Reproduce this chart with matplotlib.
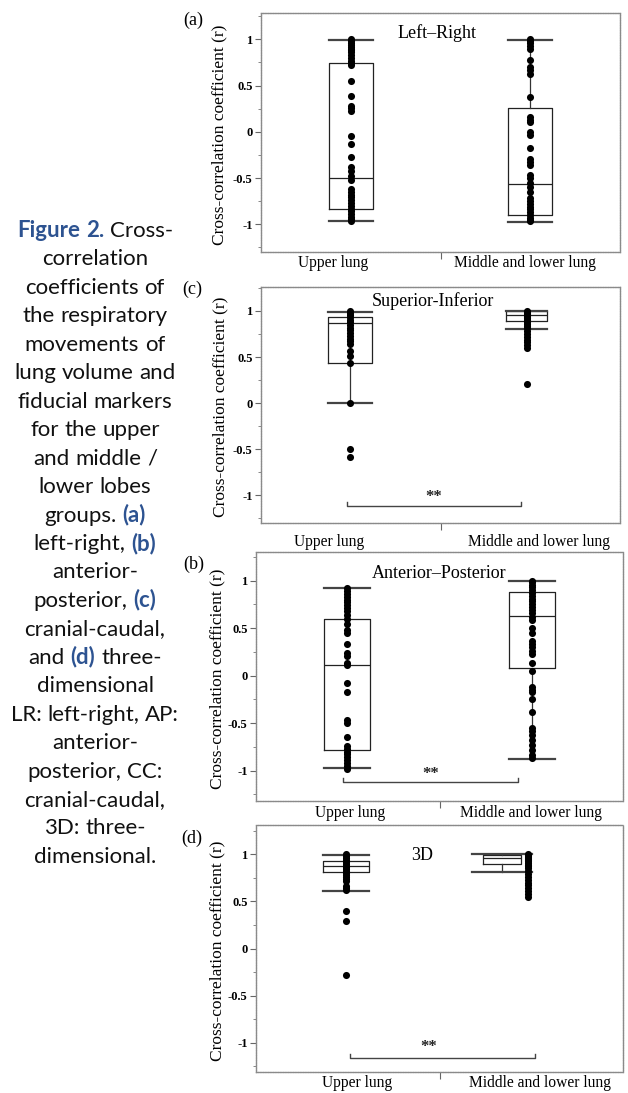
import re
import numpy as np
import matplotlib
matplotlib.use("Agg")
import matplotlib.pyplot as plt
from matplotlib.ticker import MultipleLocator

# ---------------- data ----------------
groups = ["Upper lung", "Middle and lower lung"]
panel_labels = ["(a)", "(c)", "(b)", "(d)"]
titles = ["Left\u2013Right", "Superior-Inferior", "Anterior\u2013Posterior", "3D"]
ylabel_text = "Cross-correlation coefficient (r)"
ytick_vals = [-1, -0.5, 0, 0.5, 1]
ytick_labels = ["-1", "-0.5", "0", "0.5", "1"]
sig_text = "**"

lr_upper = [1.0, 0.98, 0.96, 0.94, 0.92, 0.90, 0.88, 0.86, 0.83, 0.80, 0.77, 0.74, 0.72,
            0.55, 0.39, 0.28, 0.26, 0.23, -0.04, -0.13, -0.27, -0.38, -0.42, -0.48, -0.52,
            -0.62, -0.65, -0.68, -0.71, -0.74, -0.77, -0.80, -0.83, -0.86, -0.89, -0.92,
            -0.94, -0.96]
lr_lower = [1.0, 0.98, 0.96, 0.93, 0.90, 0.78, 0.70, 0.67, 0.63, 0.38, 0.16, 0.13, 0.11,
            0.0, -0.03, -0.17, -0.29, -0.33, -0.36, -0.47, -0.50, -0.55, -0.60, -0.65,
            -0.72, -0.75, -0.78, -0.81, -0.84, -0.87, -0.90, -0.93, -0.95, -0.97]
si_upper = [1.0, 0.98, 0.96, 0.93, 0.90, 0.88, 0.85, 0.82, 0.79, 0.76, 0.73, 0.70, 0.67,
            0.64, 0.57, 0.51, 0.44, 0.0, -0.50, -0.58]
si_lower = [1.0, 0.99, 0.98, 0.97, 0.96, 0.95, 0.93, 0.92, 0.90, 0.88, 0.86, 0.84, 0.81,
            0.78, 0.75, 0.72, 0.69, 0.66, 0.63, 0.60, 0.21]
ap_upper = [0.92, 0.89, 0.86, 0.83, 0.80, 0.77, 0.74, 0.71, 0.68, 0.64, 0.60, 0.54, 0.48,
            0.45, 0.33, 0.24, 0.21, 0.13, 0.11, -0.08, -0.17, -0.47, -0.50, -0.65, -0.74,
            -0.77, -0.80, -0.83, -0.86, -0.89, -0.92, -0.95, -0.98]
ap_lower = [1.0, 0.98, 0.95, 0.93, 0.90, 0.87, 0.84, 0.81, 0.78, 0.75, 0.72, 0.69, 0.66,
            0.62, 0.58, 0.50, 0.45, 0.36, 0.33, 0.30, 0.26, 0.23, 0.13, 0.05, -0.12, -0.15,
            -0.17, -0.25, -0.38, -0.55, -0.58, -0.63, -0.68, -0.73, -0.78, -0.84, -0.87]
d3_upper = [1.0, 0.98, 0.96, 0.94, 0.92, 0.90, 0.88, 0.86, 0.84, 0.82, 0.80, 0.78, 0.76,
            0.74, 0.72, 0.66, 0.64, 0.62, 0.40, 0.295, -0.28]
d3_lower = [1.0, 0.99, 0.98, 0.97, 0.96, 0.95, 0.94, 0.93, 0.91, 0.89, 0.87, 0.85, 0.82,
            0.79, 0.76, 0.73, 0.70, 0.67, 0.64, 0.61, 0.58, 0.55]

# box statistics: (whislo, q1, med, q3, whishi)
lr_box = [(-0.96, -0.83, -0.505, 0.74, 0.99), (-0.975, -0.895, -0.56, 0.26, 0.99)]
si_box = [(0.0, 0.44, 0.87, 0.93, 0.99), (0.80, 0.895, 0.955, 1.0, 1.0)]
ap_box = [(-0.975, -0.785, 0.115, 0.60, 0.92), (-0.875, 0.08, 0.63, 0.88, 0.99)]
d3_box = [(0.61, 0.81, 0.87, 0.93, 0.99), (0.815, 0.895, 0.965, 0.995, 1.0)]

points = [(lr_upper, lr_lower), (si_upper, si_lower), (ap_upper, ap_lower), (d3_upper, d3_lower)]
boxes = [lr_box, si_box, ap_box, d3_box]
significant = [False, True, True, True]

caption_lines = [
    "[Figure 2.] Cross-",
    "correlation",
    "coefficients of",
    "the respiratory",
    "movements of",
    "lung volume and",
    "fiducial markers",
    "for the upper",
    "and middle /",
    "lower lobes",
    "groups. [(a)]",
    "left-right, [(b)]",
    "anterior-",
    "posterior, [(c)]",
    "cranial-caudal,",
    "and [(d)] three-",
    "dimensional",
    "LR: left-right, AP:",
    "anterior-",
    "posterior, CC:",
    "cranial-caudal,",
    "3D: three-",
    "dimensional.",
]

# ---------------- layout ----------------
W, H, DPI = 628, 1093, 100
plt.rcParams["font.family"] = ["Liberation Serif", "DejaVu Serif"]
fig = plt.figure(figsize=(W / DPI, H / DPI), dpi=DPI)


def fx(x):
    return x / W


def fy(y):
    return 1 - y / H


layout = [
    dict(rect=(261, 13, 620, 252), ylim=(-1.30, 1.285), bpos=[1.0, 2.0], bw=[0.245, 0.245],
         cw=[0.245, 0.245], dx=[1.0, 2.0], lpos=[0.90, 1.97], lpad=2, title=(437, 33),
         plab=(193, 20), ylx=219, sig=None),
    dict(rect=(261, 287, 620, 523), ylim=(-1.30, 1.26), bpos=[0.996, 1.98], bw=[0.25, 0.23],
         cw=[0.25, 0.23], dx=[0.996, 1.98], lpos=[0.88, 2.05], lpad=8, title=(433, 301),
         plab=(192, 289), ylx=220, sig=(0.98, 1.95, -1.12, 1.46, -1.02)),
    dict(rect=(256, 552, 623, 801), ylim=(-1.32, 1.30), bpos=[0.996, 2.004], bw=[0.25, 0.25],
         cw=[0.25, 0.25], dx=[0.996, 2.004], lpos=[1.01, 2.0], lpad=3, title=(439, 574),
         plab=(194, 564), ylx=217, sig=(0.974, 1.93, -1.12, 1.45, -1.04)),
    dict(rect=(256, 825, 623, 1072), ylim=(-1.31, 1.31), bpos=[0.99, 1.84], bw=[0.25, 0.21],
         cw=[0.25, 0.33], dx=[0.99, 1.98], lpos=[1.05, 2.05], lpad=2.5, title=(422, 856),
         plab=(192, 838), ylx=217, sig=(1.01, 2.02, -1.16, 1.44, -1.05)),
]

for i, L in enumerate(layout):
    l, t, r, b = L["rect"]
    ax = fig.add_axes([fx(l), fy(b), (r - l) / W, (b - t) / H])
    ax.set_xlim(0.5, 2.5)
    ax.set_ylim(*L["ylim"])

    stats = []
    for (lo, q1, med, q3, hi) in boxes[i]:
        stats.append(dict(whislo=lo, q1=q1, med=med, q3=q3, whishi=hi, fliers=[]))
    ax.bxp(stats, positions=L["bpos"], widths=L["bw"], capwidths=L["cw"], showfliers=False,
           manage_ticks=False,
           boxprops=dict(color="#222222", lw=0.9),
           medianprops=dict(color="#222222", lw=0.9),
           whiskerprops=dict(color="#333333", lw=0.9),
           capprops=dict(color="#444444", lw=1.6))
    for g in range(2):
        vals = np.asarray(points[i][g])
        ax.scatter(np.full(vals.size, L["dx"][g]), vals, s=26, c="black", lw=0, zorder=3)

    if significant[i]:
        x1, x2, yb, tx, ty = L["sig"]
        hgt = 0.045
        ax.plot([x1, x1, x2, x2], [yb + hgt, yb, yb, yb + hgt], color="#444444", lw=1.0)
        ax.text(tx, ty, sig_text, ha="center", va="center", fontsize=12, fontweight="bold",
                color="#222222")

    for s in ax.spines.values():
        s.set_color("#8a8a8a")
        s.set_linewidth(1.0)
        s.set_linestyle((0, (1, 0.8)))

    ax.set_yticks(ytick_vals, ytick_labels)
    ax.yaxis.set_minor_locator(MultipleLocator(0.25))
    ax.tick_params(axis="y", which="major", length=4, width=0.8, color="#666666",
                   labelsize=9, pad=2)
    ax.tick_params(axis="y", which="minor", length=2.5, width=0.7, color="#888888")
    for lab in ax.get_yticklabels():
        lab.set_fontweight("bold")
    ax.set_xticks([1.5], [""])
    ax.set_xticks(L["lpos"], labels=groups, minor=True)
    ax.tick_params(axis="x", which="major", length=5, width=0.8, color="#666666")
    ax.tick_params(axis="x", which="minor", length=0, labelsize=11.2, pad=L["lpad"])

    fig.text(fx(L["title"][0]), fy(L["title"][1]), titles[i], ha="center", va="center",
             fontsize=13)
    fig.text(fx(L["plab"][0]), fy(L["plab"][1]), panel_labels[i], ha="center", va="center",
             fontsize=13)
    fig.text(fx(L["ylx"]), fy((t + b) / 2 + 2), ylabel_text, rotation=90, ha="center",
             va="center", fontsize=12.5)

# ---------------- caption ----------------
renderer = fig.canvas.get_renderer()
cap_family = ["Lato", "DejaVu Sans"]
blue = "#2d5391"


def width_of(s, size, weight="normal"):
    tt = fig.text(0, 0, s, fontsize=size, family=cap_family, fontweight=weight)
    w = tt.get_window_extent(renderer).width
    tt.remove()
    return w


ref_w = width_of("lung volume and", 10)
cap_size = 10 * 161.0 / ref_w
space_w = width_of("a a", cap_size) - width_of("aa", cap_size)

for li, line in enumerate(caption_lines):
    words = []
    for seg in re.split(r"(\[[^\]]+\])", line):
        if not seg:
            continue
        bold = seg.startswith("[")
        txt = seg.strip("[]")
        for wtxt in txt.split():
            words.append((wtxt, bold))
    widths = [width_of(wt, cap_size, "bold" if bd else "normal") for wt, bd in words]
    total = sum(widths) + space_w * (len(words) - 1)
    x = 95 - total / 2
    ybase = 231 + 28.45 * li + 6
    for (wt, bd), ww in zip(words, widths):
        fig.text(fx(x), fy(ybase), wt, fontsize=cap_size, family=cap_family,
                 fontweight="bold" if bd else "normal", color=blue if bd else "#111111",
                 ha="left", va="baseline")
        x += ww + space_w

fig.savefig("out.png", dpi=DPI)
